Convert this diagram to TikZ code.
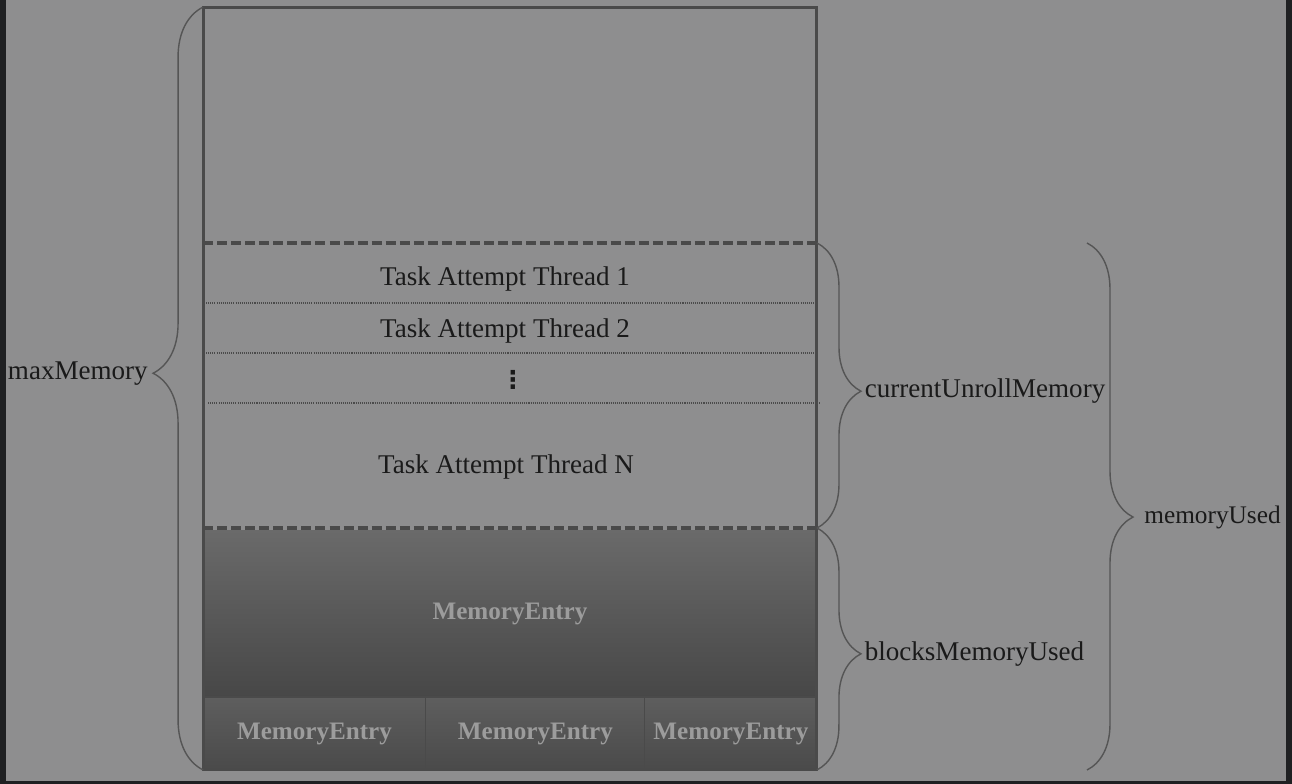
\documentclass[tikz,border=0pt]{standalone}
\usepackage{fontspec}
\setmainfont{Liberation Serif}
\newfontfamily\dotsfont{DejaVu Sans}
\usetikzlibrary{chains,positioning,decorations.pathreplacing}
\definecolor{bggray}{HTML}{8E8E8F}
\definecolor{edgegray}{HTML}{1F2022}
\definecolor{linegray}{HTML}{4A4A4A}
\definecolor{bracegray}{HTML}{555555}
\definecolor{entrytext}{HTML}{9C9C9C}
\definecolor{inktext}{HTML}{1A1A1A}
\definecolor{blkhi}{HTML}{6A6A6A}
\definecolor{blklo}{HTML}{474747}
\definecolor{cellhi}{HTML}{5E5E5E}
\definecolor{celllo}{HTML}{4A4A4A}

\begin{document}
\begin{tikzpicture}[x=0.02cm,y=-0.02cm]
\tikzstyle{txt}=[text=inktext,font=\fontsize{15.4}{18}\selectfont,inner sep=0pt]
\tikzstyle{entry}=[text=entrytext,font=\bfseries\fontsize{14.3}{17}\selectfont,inner sep=0pt,outer sep=0pt]
\tikzstyle{cell}=[entry,draw=linegray,line width=0.6pt,top color=cellhi,bottom color=celllo,minimum height=1.46cm]
\tikzstyle{sepdash}=[linegray,line width=2.2pt,dash pattern=on 5.7pt off 2.3pt]
\tikzstyle{sepdot}=[linegray,line width=0.8pt,dash pattern=on 0.6pt off 0.6pt]
\tikzstyle{memdim}=[bracegray,line width=0.8pt,decorate]
\useasboundingbox (0,0) rectangle (1292,784);
\fill[bggray] (0,0) rectangle (1292,784);
\fill[edgegray] (0,0) rectangle (6,784);
\fill[edgegray] (1286,0) rectangle (1292,784);
\fill[edgegray] (0,781) rectangle (1292,784);
\node[entry,top color=blkhi,bottom color=blklo,minimum width=12.28cm,minimum height=3.34cm] (blk) at (510,613.5) {MemoryEntry};
\begin{scope}[start chain=cells going right,node distance=0pt]
    \node [on chain=cells,cell,minimum width=4.46cm,anchor=west] (cellA) at (203,733.5) {MemoryEntry};
    \node [on chain=cells,cell,minimum width=4.38cm] (cellB) {MemoryEntry};
    \node [on chain=cells,cell,minimum width=3.44cm] (cellC) {MemoryEntry};
\end{scope}
\node[txt] (thr1) at (505,279) {Task Attempt Thread 1};
\node[txt] (thr2) at (505,331) {Task Attempt Thread 2};
\node[txt,font=\dotsfont\bfseries\fontsize{14}{16}\selectfont] (thrdots) at (513,380) {⋮};
\node[txt] (thrN) at (506,467) {Task Attempt Thread N};
\draw[sepdot] (206,303) -- (817,303);
\draw[sepdot] (206,353) -- (817,353);
\draw[sepdot] (208,403) -- (821,403);
\coordinate (sepA-w) at (203,243);
\coordinate (sepA-e) at (817,243);
\coordinate (sepB-w) at (203,528);
\coordinate (sepB-e) at (817,528);
\draw[sepdash] (sepA-w) -- (sepA-e);
\draw[sepdash] (sepB-w) -- (sepB-e);
\node[draw=linegray,line width=1.7pt,minimum width=12.28cm,minimum height=15.26cm,inner sep=0pt,outer sep=0pt] (mem) at (510,388.5) {};
\draw[memdim,decoration={brace,amplitude=1cm,aspect=0.52}] (mem.south west) -- (mem.north west) coordinate[pos=0.52] (maxtip);
\node[txt,left=1.1cm of maxtip] (maxlbl) {maxMemory};
\draw[memdim,decoration={brace,amplitude=0.88cm,aspect=0.52}] (sepA-e) -- (sepB-e) coordinate[pos=0.52] (unrolltip);
\node[txt,right=0.95cm of unrolltip] (unrolllbl) {currentUnrollMemory};
\draw[memdim,decoration={brace,amplitude=0.88cm,aspect=0.52}] (sepB-e) -- (mem.south east) coordinate[pos=0.52] (blockstip);
\node[txt,right=0.95cm of blockstip] (blockslbl) {blocksMemoryUsed};
\coordinate (usedtop) at (1087,243);
\coordinate (usedbot) at (1087,770);
\draw[memdim,decoration={brace,amplitude=0.92cm,aspect=0.52}] (usedtop) -- (usedbot) coordinate[pos=0.52] (usedtip);
\node[txt,font=\fontsize{14.4}{17}\selectfont,right=1.14cm of usedtip] (usedlbl) {memoryUsed};
\end{tikzpicture}
\end{document}
